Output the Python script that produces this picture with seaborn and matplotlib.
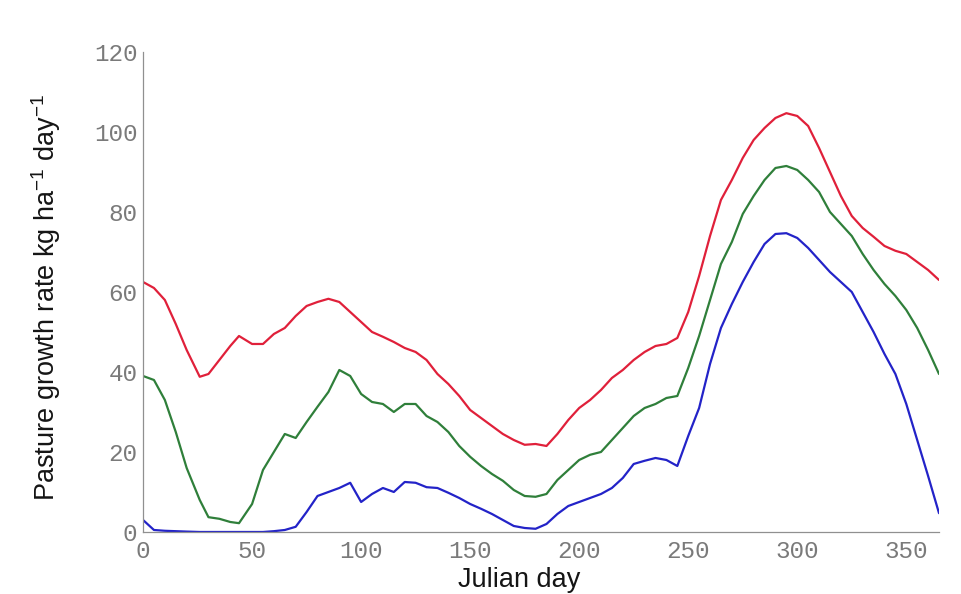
import numpy as np
import pandas as pd
import matplotlib
matplotlib.use("Agg")
import matplotlib.pyplot as plt
import seaborn as sns

# Julian days sampled along the curves
days = [0, 5, 10, 15, 20, 26, 30, 35, 40, 44, 50, 55, 60, 65, 70, 75, 80, 85, 90, 95,
        100, 105, 110, 115, 120, 125, 130, 135, 140, 145, 150, 155, 160, 165, 170, 175,
        180, 185, 190, 195, 200, 205, 210, 215, 220, 225, 230, 235, 240, 245, 250, 255,
        260, 265, 270, 275, 280, 285, 290, 295, 300, 305, 310, 315, 320, 325, 330, 335,
        340, 345, 350, 355, 360, 365]

# upper curve (red)
red_rate = [62.5, 61, 58, 52, 45.5, 38.8, 39.5, 43, 46.5, 49, 47, 47, 49.5, 51, 54, 56.5,
            57.5, 58.3, 57.5, 55, 52.5, 50, 48.8, 47.5, 46, 45, 43, 39.5, 37, 34, 30.5,
            28.5, 26.5, 24.5, 23, 21.8, 22, 21.5, 24.5, 28, 31, 33, 35.5, 38.5, 40.5, 43,
            45, 46.5, 47, 48.5, 55, 64, 74, 83, 88, 93.5, 98, 101, 103.5, 104.7, 104,
            101.5, 96, 90, 84, 79, 76, 73.8, 71.5, 70.3, 69.5, 67.5, 65.5, 63]

# middle curve (green)
green_rate = [39, 38, 33, 25, 16, 8, 3.7, 3.3, 2.5, 2.2, 7, 15.5, 20, 24.5, 23.5, 27.5,
              31.3, 35, 40.5, 39, 34.5, 32.5, 32, 30, 32, 32, 29, 27.5, 25, 21.5, 18.8,
              16.5, 14.5, 12.8, 10.5, 9, 8.8, 9.5, 13, 15.5, 18, 19.3, 20, 23, 26, 29,
              31, 32, 33.5, 34, 41, 49, 58, 67, 72.5, 79.5, 84, 88, 91, 91.5, 90.5, 88,
              85, 80, 77, 74, 69.5, 65.5, 62, 59, 55.5, 51, 45.5, 39.5]

# lower curve (blue)
blue_rate = [3, 0.5, 0.3, 0.2, 0.1, 0, 0, 0, 0, 0, 0, 0, 0.2, 0.5, 1.3, 5, 9, 10, 11, 12.3,
             7.5, 9.5, 11, 10, 12.5, 12.3, 11.2, 11, 9.8, 8.5, 7, 5.8, 4.5, 3, 1.5, 1,
             0.8, 2, 4.5, 6.5, 7.5, 8.5, 9.5, 11, 13.5, 17, 17.8, 18.5, 18, 16.5, 24, 31,
             42, 51, 57, 62.5, 67.5, 72, 74.5, 74.7, 73.5, 71, 68, 65, 62.5, 60, 55, 50,
             44.5, 39.5, 32, 23, 14, 4.7]

x_ticks = [0, 50, 100, 150, 200, 250, 300, 350]
y_ticks = [0, 20, 40, 60, 80, 100, 120]

sns.set_style("white")
plt.rcParams["font.family"] = ["Liberation Sans", "DejaVu Sans"]
plt.rcParams["mathtext.fontset"] = "custom"
plt.rcParams["mathtext.rm"] = "Liberation Sans"
plt.rcParams["mathtext.it"] = "Liberation Sans"

df = pd.DataFrame({"day": days, "red": red_rate, "green": green_rate, "blue": blue_rate})
long = df.melt(id_vars="day", var_name="curve", value_name="rate")

fig = plt.figure(figsize=(9.62, 5.94), dpi=100)
ax = fig.add_axes([0.1487, 0.1044, 0.8274, 0.8081])

palette = {"red": "#e0203a", "green": "#2f7f3a", "blue": "#2323c8"}
sns.lineplot(data=long, x="day", y="rate", hue="curve", palette=palette,
             linewidth=1.6, legend=False, ax=ax)

ax.set_xlim(0, 365)
ax.set_ylim(0, 120)
ax.set_xticks(x_ticks)
ax.set_yticks(y_ticks)

tick_font = {"family": ["Liberation Mono", "DejaVu Sans Mono"], "size": 17.5, "color": "#7a7a7a"}
ax.set_xticklabels([str(t) for t in x_ticks], **tick_font)
ax.set_yticklabels([str(t) for t in y_ticks], **tick_font)
ax.tick_params(direction="in", length=5, width=0.8, color="#909090")
ax.tick_params(axis="x", pad=6)
ax.tick_params(axis="y", pad=4)

for side in ["top", "right"]:
    ax.spines[side].set_visible(False)
for side in ["left", "bottom"]:
    ax.spines[side].set_color("#909090")
    ax.spines[side].set_linewidth(0.9)

ax.set_xlabel("Julian day", fontsize=19.5, color="#151515")
ax.set_ylabel("Pasture growth rate kg ha$^{\\mathrm{-1}}$ day$^{\\mathrm{-1}}$", fontsize=19.5, color="#151515")
ax.xaxis.set_label_coords(0.472, -0.072)
ax.yaxis.set_label_coords(-0.10, 0.49)

fig.savefig("out.png", dpi=100, facecolor="white")
